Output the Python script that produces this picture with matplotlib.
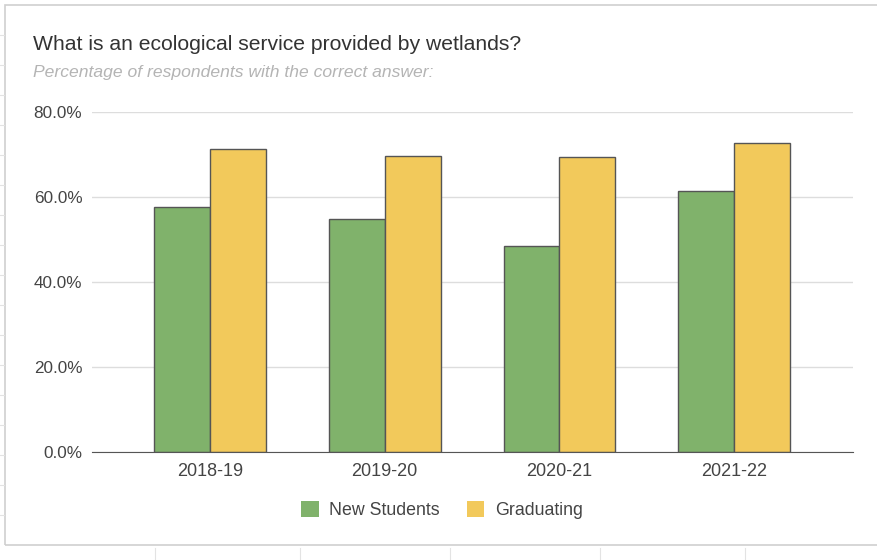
import matplotlib.pyplot as plt
import numpy as np
from matplotlib.patches import Rectangle

plt.rcParams['font.family'] = ['Liberation Sans', 'DejaVu Sans']

years = ['2018-19', '2019-20', '2020-21', '2021-22']
new_students = [57.6, 54.8, 48.5, 61.4]
graduating = [71.3, 69.6, 69.4, 72.7]

green = '#80b26b'
yellow = '#f2c95b'
edge = '#555555'

W, H = 878, 560
fig = plt.figure(figsize=(W / 100, H / 100), dpi=100)
fig.patch.set_facecolor('white')

# spreadsheet-like frame around the chart
fig.patches.append(Rectangle((5 / W, 1 - 545 / H), 2, (545 - 5) / H,
                             transform=fig.transFigure, fill=False,
                             edgecolor='#cfcfcf', lw=1.2))
for y in [35, 65, 95, 125, 155, 185, 215, 245, 275, 305, 335, 365, 395, 425, 455, 485, 515]:
    fig.add_artist(plt.Line2D([0, 4 / W], [1 - y / H] * 2, color='#e3e3e3', lw=0.8))
for x in [155, 300, 450, 600, 745]:
    fig.add_artist(plt.Line2D([x / W] * 2, [0, 1 - 548 / H], color='#e3e3e3', lw=0.8))

ax = fig.add_axes([92 / W, 1 - 452 / H, (853 - 92) / W, (452 - 112) / H])
x = np.arange(len(years))
bw = 0.32
ax.bar(x - bw / 2, new_students, bw, color=green, edgecolor=edge, linewidth=1.0,
       label='New Students', zorder=3)
ax.bar(x + bw / 2, graduating, bw, color=yellow, edgecolor=edge, linewidth=1.0,
       label='Graduating', zorder=3)

ax.set_xlim(-0.675, 3.68)
ax.set_ylim(0, 80)
ax.set_yticks([0, 20, 40, 60, 80])
ax.set_yticklabels([f'{v:.1f}%' for v in [0, 20, 40, 60, 80]])
ax.set_xticks(x)
ax.set_xticklabels(years)
ax.yaxis.grid(True, color='#dddddd', lw=1.0, zorder=0)
for s in ['top', 'right', 'left']:
    ax.spines[s].set_visible(False)
ax.spines['bottom'].set_color('#555555')
ax.spines['bottom'].set_zorder(4)
ax.tick_params(axis='x', length=0, labelsize=13, colors='#444444', pad=8)
ax.tick_params(axis='y', length=0, labelsize=12.3, colors='#444444', pad=7)

fig.text(33 / W, 1 - 45 / H, 'What is an ecological service provided by wetlands?',
         fontsize=15.2, color='#333333', va='center', ha='left')
fig.text(33 / W, 1 - 73 / H, 'Percentage of respondents with the correct answer:',
         fontsize=12.6, color='#b4b4b4', style='italic', va='center', ha='left')

leg = fig.legend(loc='center', bbox_to_anchor=(442 / W, 1 - 510 / H), ncol=2,
                 frameon=False, fontsize=12.8, handlelength=1.0, handleheight=1.0,
                 columnspacing=1.5, handletextpad=0.6)
for h in leg.legend_handles:
    h.set_edgecolor('none')
for t in leg.get_texts():
    t.set_color('#444444')

fig.savefig('out.png', dpi=100)
